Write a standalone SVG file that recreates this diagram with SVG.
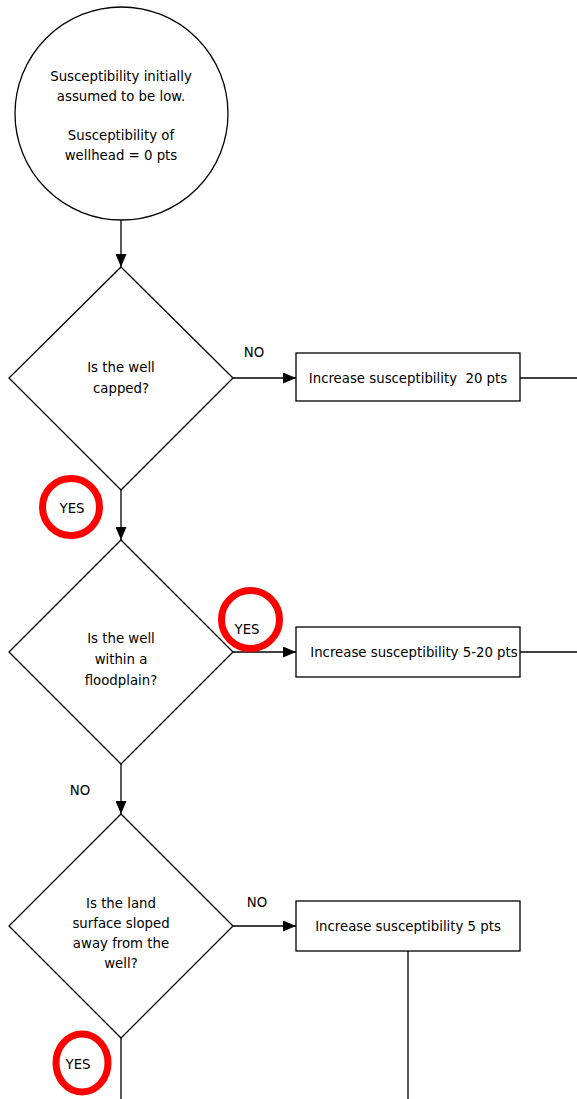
<svg xmlns="http://www.w3.org/2000/svg" width="577" height="1099" viewBox="0 0 577 1099">
<style>
.shape{fill:#fff;stroke:#000;stroke-width:1.3}
.t{font-family:"DejaVu Sans","Liberation Sans",sans-serif;font-size:13.3px;fill:#000;text-anchor:middle;white-space:pre}
.c{fill:none;stroke:#000;stroke-width:1.3}
.hl{fill:none;stroke:#ff0000;stroke-width:7}
</style>
<defs>
<marker id="arr" markerWidth="13" markerHeight="11" refX="13" refY="5.5" orient="auto" markerUnits="userSpaceOnUse">
<path d="M0,0 L13,5.5 L0,11 Z" fill="#000"/>
</marker>
</defs>
<rect width="577" height="1099" fill="#fff"/>
<g id="connectors">
<path class="c" d="M121,220 L121,267" marker-end="url(#arr)"/>
<path class="c" d="M233,378 L296,378" marker-end="url(#arr)"/>
<path class="c" d="M520,378 L577,378"/>
<path class="c" d="M121,490 L121,540" marker-end="url(#arr)"/>
<path class="c" d="M233,652 L296,652" marker-end="url(#arr)"/>
<path class="c" d="M520,652 L577,652"/>
<path class="c" d="M121,764 L121,814" marker-end="url(#arr)"/>
<path class="c" d="M233,926 L296,926" marker-end="url(#arr)"/>
<path class="c" d="M408,951 L408,1099"/>
<path class="c" d="M121,1038 L121,1099"/>
<text class="t" x="254" y="357">NO</text>
<text class="t" x="80" y="795">NO</text>
<text class="t" x="257" y="907">NO</text>
</g>
<g id="start">
<circle class="shape" cx="121.5" cy="113.5" r="106.5"/>
<text class="t" x="121" y="81">Susceptibility initially</text>
<text class="t" x="121" y="101">assumed to be low.</text>
<text class="t" x="121" y="140">Susceptibility of</text>
<text class="t" x="121" y="160">wellhead = 0 pts</text>
</g>
<g id="q1">
<polygon class="shape" points="121,267 233,378 121,490 9,378"/>
<text class="t" x="121" y="372">Is the well</text>
<text class="t" x="121" y="393">capped?</text>
</g>
<g id="b1">
<rect class="shape" x="296" y="353" width="224" height="48"/>
<text class="t" x="408" y="383" xml:space="preserve">Increase susceptibility  20 pts</text>
</g>
<g id="q2">
<polygon class="shape" points="121,540 233,652 121,764 9,652"/>
<text class="t" x="121" y="643">Is the well</text>
<text class="t" x="121" y="664">within a</text>
<text class="t" x="121" y="685">floodplain?</text>
</g>
<g id="b2">
<rect class="shape" x="296" y="627" width="224" height="50"/>
<text class="t" x="414" y="657">Increase susceptibility 5-20 pts</text>
</g>
<g id="q3">
<polygon class="shape" points="121,814 233,926 121,1038 9,926"/>
<text class="t" x="121" y="908">Is the land</text>
<text class="t" x="121" y="928">surface sloped</text>
<text class="t" x="121" y="948">away from the</text>
<text class="t" x="121" y="968">well?</text>
</g>
<g id="b3">
<rect class="shape" x="296" y="901" width="224" height="50"/>
<text class="t" x="408" y="931">Increase susceptibility 5 pts</text>
</g>
<g id="yes1">
<circle class="hl" cx="71" cy="507" r="28.5"/>
<text class="t" x="72" y="513">YES</text>
</g>
<g id="yes2">
<circle class="hl" cx="250.5" cy="619.5" r="29"/>
<text class="t" x="247" y="634">YES</text>
</g>
<g id="yes3">
<ellipse class="hl" cx="82" cy="1063" rx="26" ry="29"/>
<text class="t" x="78" y="1069">YES</text>
</g>
</svg>
